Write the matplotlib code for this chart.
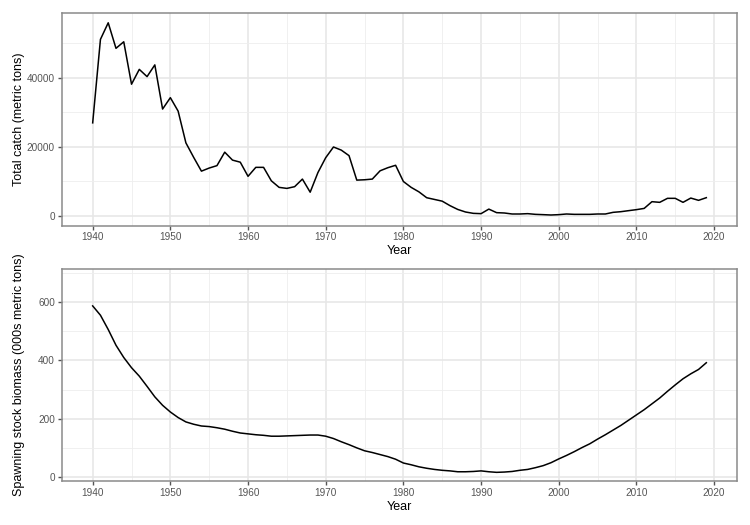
import matplotlib
matplotlib.use("Agg")
import matplotlib.pyplot as plt
from matplotlib.ticker import MultipleLocator

years = list(range(1940, 2020))

catch = [27000, 51200, 56000, 48600, 50500, 38200, 42500, 40400, 43800, 31000,
         34300, 30400, 21200, 17000, 13000, 13900, 14600, 18500, 16200, 15600,
         11500, 14100, 14100, 10200, 8300, 8000, 8500, 10700, 6900, 12600,
         16900, 20000, 19100, 17500, 10400, 10500, 10700, 13100, 14000, 14700,
         10000, 8300, 7000, 5300, 4800, 4300, 3000, 1900, 1160, 770,
         680, 2000, 970, 870, 580, 580, 680, 480, 390, 290,
         390, 580, 480, 480, 480, 580, 580, 1060, 1250, 1550,
         1840, 2200, 4150, 3960, 5120, 5120, 3960, 5200, 4540, 5310]

ssb = [587, 555, 506, 452, 410, 375, 346, 311, 275, 246,
       223, 204, 189, 181, 175, 173, 169, 164, 157, 151,
       148, 145, 143, 140, 140, 141, 142, 143, 144, 144,
       140, 132, 121, 111, 100, 90, 84, 77, 70, 61,
       48, 42, 35, 30, 26, 23, 21, 18, 18, 19,
       21, 18, 16, 17, 19, 23, 26, 32, 39, 49,
       62, 74, 87, 101, 114, 130, 145, 161, 177, 195,
       213, 231, 251, 271, 294, 316, 337, 354, 369, 392]

plt.rcParams['font.family'] = ['Liberation Sans', 'DejaVu Sans']

fig = plt.figure(figsize=(7.5, 5.25), dpi=100)
ax1 = fig.add_axes([62/750, (525-225.5)/525, 675/750, 212.5/525])
ax2 = fig.add_axes([62/750, (525-481)/525, 675/750, 212/525])

def style(ax, ymaj, ymin_):
    ax.set_facecolor('white')
    ax.xaxis.set_major_locator(MultipleLocator(10))
    ax.xaxis.set_minor_locator(MultipleLocator(5))
    ax.yaxis.set_major_locator(MultipleLocator(ymaj))
    ax.yaxis.set_minor_locator(MultipleLocator(ymin_))
    ax.grid(which='major', color='#e6e6e6', lw=1.1)
    ax.grid(which='minor', color='#eeeeee', lw=0.6)
    ax.set_axisbelow(True)
    for s in ax.spines.values():
        s.set_color('#8a8a8a')
        s.set_linewidth(1.1)
    ax.tick_params(which='major', length=3, width=1.0, color='#555555',
                   labelcolor='#555555', labelsize=7.2, pad=2)
    ax.tick_params(which='minor', length=0)
    ax.set_xlim(1936.05, 2022.95)
    ax.set_xlabel('Year', fontsize=9, labelpad=2)
    ax.yaxis.set_label_coords((19 - 62) / 675, 0.5)

ax1.plot(years, catch, color='black', lw=1.1)
style(ax1, 20000, 10000)
ax1.set_ylim(-2754, 58840)
ax1.set_ylabel('Total catch (metric tons)', fontsize=9, va='center')

ax2.plot(years, ssb, color='black', lw=1.1)
style(ax2, 200, 100)
ax2.set_ylim(-13.7, 713.6)
ax2.set_ylabel('Spawning stock biomass (000s metric tons)', fontsize=9, va='center')

fig.savefig('out.png', dpi=100, facecolor='white')
